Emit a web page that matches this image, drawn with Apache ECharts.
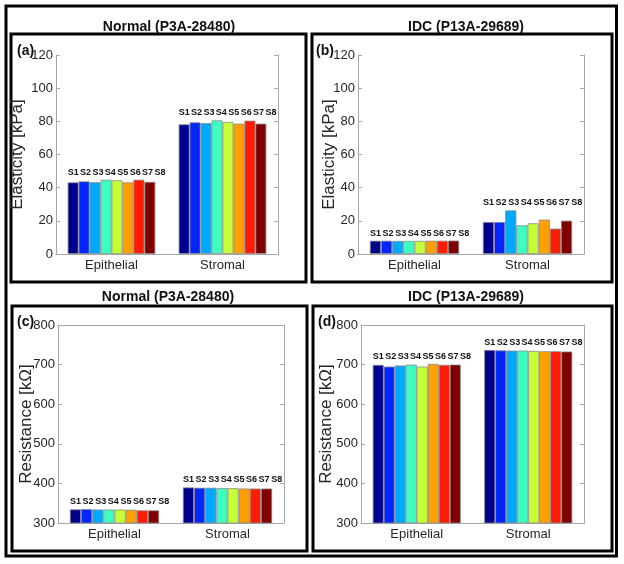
<!DOCTYPE html>
<html>
<head>
<meta charset="utf-8">
<script src="https://cdn.jsdelivr.net/npm/echarts@6/dist/echarts.min.js"></script>
<style>
  html, body { margin: 0; padding: 0; background: #fff; }
  #chart { width: 624px; height: 564px; }
</style>
</head>
<body>
<div id="chart"></div>
<script>
// categories and sample names
const categories = ['Epithelial', 'Stromal'];
const sampleNames = ['S1', 'S2', 'S3', 'S4', 'S5', 'S6', 'S7', 'S8'];
const sampleColors = ['#00008f', '#0026ff', '#00a8ff', '#3dffc2', '#c6ff3a', '#ffa000', '#ff1c00', '#800000'];

// (a) Normal elasticity [kPa], one array per category, S1..S8
const normalElastEpi = [43.2, 43.8, 43.3, 44.8, 44.4, 43.2, 44.8, 43.5];
const normalElastStr = [78.2, 79.4, 78.9, 80.6, 79.6, 78.6, 80.4, 78.6];
// (b) IDC elasticity [kPa]
const idcElastEpi = [8.0, 8.0, 7.9, 7.9, 7.9, 8.0, 8.0, 8.1];
const idcElastStr = [19.3, 19.3, 26.3, 17.3, 18.5, 20.7, 15.3, 20.1];
// (c) Normal resistance [kOhm]
const normalResEpi = [334.5, 335, 334, 334, 334, 333.5, 332, 332];
const normalResStr = [389.8, 389, 389, 388, 388, 387, 387, 387];
// (d) IDC resistance [kOhm]
const idcResEpi = [699.3, 695, 697.7, 700, 695, 701.8, 699.3, 700];
const idcResStr = [737, 736, 735.4, 735.4, 734.6, 733.7, 733.7, 733];

// axis ranges
const elastTicks = { min: 0, max: 120, interval: 20 };
const resTicks = { min: 300, max: 800, interval: 100 };

const panels = [
  { tag: '(a)', title: 'Normal (P3A-28480)', yName: 'Elasticity [kPa]', epi: normalElastEpi, str: normalElastStr, ticks: elastTicks, nameGap: 30,
    grid: { left: 56, top: 55, width: 222, height: 199 }, frame: [11, 34, 295, 248], titleX: 169, titleY: 20, tagX: 17, tagY: 44 },
  { tag: '(b)', title: 'IDC (P13A-29689)', yName: 'Elasticity [kPa]', epi: idcElastEpi, str: idcElastStr, ticks: elastTicks, nameGap: 20,
    grid: { left: 358, top: 55, width: 226, height: 199 }, frame: [312, 34, 300, 248], titleX: 466, titleY: 20, tagX: 316, tagY: 44 },
  { tag: '(c)', title: 'Normal (P3A-28480)', yName: 'Resistance [kΩ]', epi: normalResEpi, str: normalResStr, ticks: resTicks, nameGap: 23,
    grid: { left: 58, top: 325, width: 226, height: 198 }, frame: [12, 306, 295, 245], titleX: 168, titleY: 290, tagX: 17, tagY: 315 },
  { tag: '(d)', title: 'IDC (P13A-29689)', yName: 'Resistance [kΩ]', epi: idcResEpi, str: idcResStr, ticks: resTicks, nameGap: 26,
    grid: { left: 361, top: 325, width: 223, height: 198 }, frame: [313, 306, 299, 245], titleX: 466, titleY: 290, tagX: 318, tagY: 315 }
];

const font = "'Liberation Sans', Arial, Helvetica, sans-serif";
const axisGray = '#a8a8a8';
const textGray = '#262626';

const grids = [], xAxes = [], yAxes = [], series = [], titles = [], graphics = [];

// outer frame
graphics.push({ type: 'rect', shape: { x: 6, y: 6, width: 610.5, height: 550 }, style: { fill: 'none', stroke: '#000', lineWidth: 3 }, silent: true });

panels.forEach((p, g) => {
  grids.push(Object.assign({ containLabel: false }, p.grid));
  // bottom + top category axis
  xAxes.push({
    type: 'category', gridIndex: g, data: categories,
    axisLine: { lineStyle: { color: axisGray, width: 1 } },
    axisTick: { inside: true, alignWithLabel: true, length: 4, lineStyle: { color: axisGray } },
    axisLabel: { fontSize: 13, color: textGray, fontFamily: font, margin: 5 }
  });
  xAxes.push({
    type: 'category', gridIndex: g, position: 'top', data: categories,
    axisLine: { lineStyle: { color: axisGray, width: 1 } },
    axisTick: { inside: true, alignWithLabel: true, length: 4, lineStyle: { color: axisGray } },
    axisLabel: { show: false }
  });
  // left + right value axis
  yAxes.push({
    type: 'value', gridIndex: g, min: p.ticks.min, max: p.ticks.max, interval: p.ticks.interval,
    name: p.yName, nameLocation: 'middle', nameGap: p.nameGap, nameMoveOverlap: false,
    nameTextStyle: { fontSize: 17, color: textGray, fontFamily: font },
    axisLine: { show: true, lineStyle: { color: axisGray, width: 1 } },
    axisTick: { show: true, inside: true, length: 4, lineStyle: { color: axisGray } },
    axisLabel: { fontSize: 13, color: textGray, fontFamily: font, margin: 3 },
    splitLine: { show: false }
  });
  yAxes.push({
    type: 'value', gridIndex: g, position: 'right', min: p.ticks.min, max: p.ticks.max, interval: p.ticks.interval,
    axisLine: { show: true, lineStyle: { color: axisGray, width: 1 } },
    axisTick: { show: true, inside: true, length: 4, lineStyle: { color: axisGray } },
    axisLabel: { show: false },
    splitLine: { show: false }
  });

  // labels sit just above the tallest bar of each group, spread a little wider than the bars
  const groupMax = [Math.max.apply(null, p.epi), Math.max.apply(null, p.str)];
  sampleNames.forEach((s, i) => {
    const vals = [p.epi[i], p.str[i]];
    const stackName = 'g' + g + s;
    series.push({
      name: s, type: 'bar', xAxisIndex: g * 2, yAxisIndex: g * 2, stack: stackName,
      data: vals, barGap: '0%', barCategoryGap: '21%',
      itemStyle: { color: sampleColors[i], borderColor: '#8c8c8c', borderWidth: 0.8 },
      silent: true
    });
    series.push({
      name: s + '_lbl', type: 'bar', xAxisIndex: g * 2, yAxisIndex: g * 2, stack: stackName,
      data: vals.map((v, k) => groupMax[k] - v), barGap: '0%', barCategoryGap: '21%',
      itemStyle: { color: 'rgba(0,0,0,0)' },
      label: { show: true, position: 'top', distance: 3, offset: [i * 1.45, 0], formatter: s,
        fontSize: 9, fontWeight: 'bold', color: '#111', fontFamily: font },
      silent: true
    });
  });

  titles.push({
    text: p.title, left: p.titleX, top: p.titleY, textAlign: 'center', padding: 0,
    textStyle: { fontSize: 14, fontWeight: 'bold', color: '#111', fontFamily: font }
  });
  graphics.push({ type: 'rect', shape: { x: p.frame[0], y: p.frame[1], width: p.frame[2], height: p.frame[3] }, style: { fill: 'none', stroke: '#000', lineWidth: 3 }, silent: true });
  graphics.push({ type: 'text', left: p.tagX, top: p.tagY, style: { text: p.tag, fontSize: 14, fontWeight: 'bold', fill: '#111', fontFamily: font }, silent: true });
});

const box = echarts.init(document.getElementById('chart'));
box.setOption({
  animation: false,
  backgroundColor: '#fff',
  title: titles,
  grid: grids,
  xAxis: xAxes,
  yAxis: yAxes,
  series: series,
  graphic: graphics
});
</script>
</body>
</html>
